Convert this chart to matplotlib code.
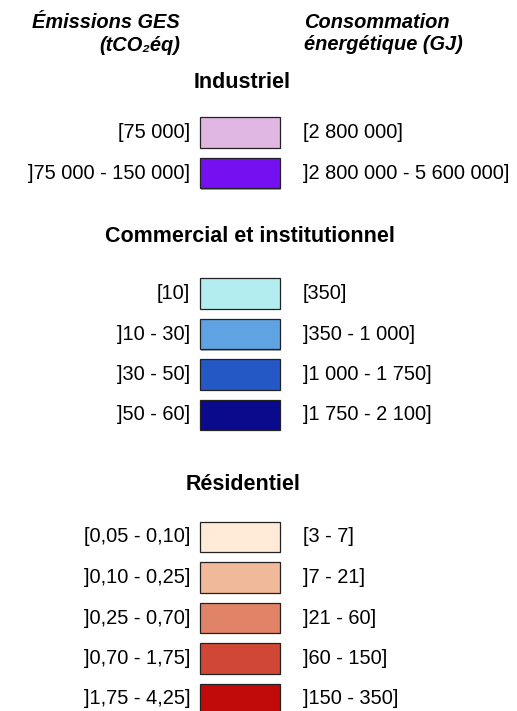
import matplotlib
matplotlib.use("Agg")
import matplotlib.pyplot as plt

plt.rcParams['font.family'] = ['Liberation Sans', 'DejaVu Sans']

# legend content
ges_title = ["Émissions GES", "(tCO₂éq)"]
energy_title = ["Consommation", "énergétique (GJ)"]

sectors = ["Industriel", "Commercial et institutionnel", "Résidentiel"]

ind_ges = ["[75 000]", "]75 000 - 150 000]"]
ind_gj = ["[2 800 000]", "]2 800 000 - 5 600 000]"]
ind_colors = ["#E0B6E3", "#7510F0"]

com_ges = ["[10]", "]10 - 30]", "]30 - 50]", "]50 - 60]"]
com_gj = ["[350]", "]350 - 1 000]", "]1 000 - 1 750]", "]1 750 - 2 100]"]
com_colors = ["#B3EDEF", "#5FA3E3", "#2358C5", "#0A0A8D"]

res_ges = ["[0,05 - 0,10]", "]0,10 - 0,25]", "]0,25 - 0,70]", "]0,70 - 1,75]", "]1,75 - 4,25]"]
res_gj = ["[3 - 7]", "]7 - 21]", "]21 - 60]", "]60 - 150]", "]150 - 350]"]
res_colors = ["#FFEBD8", "#F0B99A", "#E08366", "#D14735", "#C10A0A"]

groups = [
    (ind_ges, ind_gj, ind_colors),
    (com_ges, com_gj, com_colors),
    (res_ges, res_gj, res_colors),
]

# layout in pixels
W, H = 517, 711
header_x = [242, 250, 243]
header_y = [82, 237, 485]
first_row = [132.3, 293.7, 537]
row_step = [40.8, 40.4, 40.5]
box_left, box_w, box_h = 199.5, 80.5, 30.5
lab_fs, head_fs = 14.4, 15.5

fig = plt.figure(figsize=(W / 100, H / 100), dpi=100)
ax = fig.add_axes([0, 0, 1, 1])
ax.set_xlim(0, W)
ax.set_ylim(H, 0)
ax.axis('off')

# column titles
ax.text(180, 28, ges_title[0], ha='right', va='baseline', fontsize=lab_fs,
        fontweight='bold', style='italic')
ax.text(180, 51, ges_title[1], ha='right', va='baseline', fontsize=lab_fs,
        fontweight='bold', style='italic')
ax.text(304, 28, energy_title[0], ha='left', va='baseline', fontsize=lab_fs,
        fontweight='bold', style='italic')
ax.text(304, 50.5, energy_title[1], ha='left', va='baseline', fontsize=lab_fs,
        fontweight='bold', style='italic')

for k, (ges, gj, cols) in enumerate(groups):
    ax.text(header_x[k], header_y[k], sectors[k], ha='center', va='center',
            fontsize=head_fs, fontweight='bold')
    ys = [first_row[k] + i * row_step[k] for i in range(len(ges))]
    # soft shadow then the box
    ax.barh([y + 1.2 for y in ys], box_w, left=box_left + 1.2, height=box_h,
            color='#A8A8A8', edgecolor='none')
    ax.barh(ys, box_w, left=box_left, height=box_h, color=cols,
            edgecolor='#222222', linewidth=0.9)
    for y, a, b in zip(ys, ges, gj):
        ax.text(190, y, a, ha='right', va='center', fontsize=lab_fs)
        ax.text(303, y, b, ha='left', va='center', fontsize=lab_fs)

fig.savefig("out.png", dpi=100)
